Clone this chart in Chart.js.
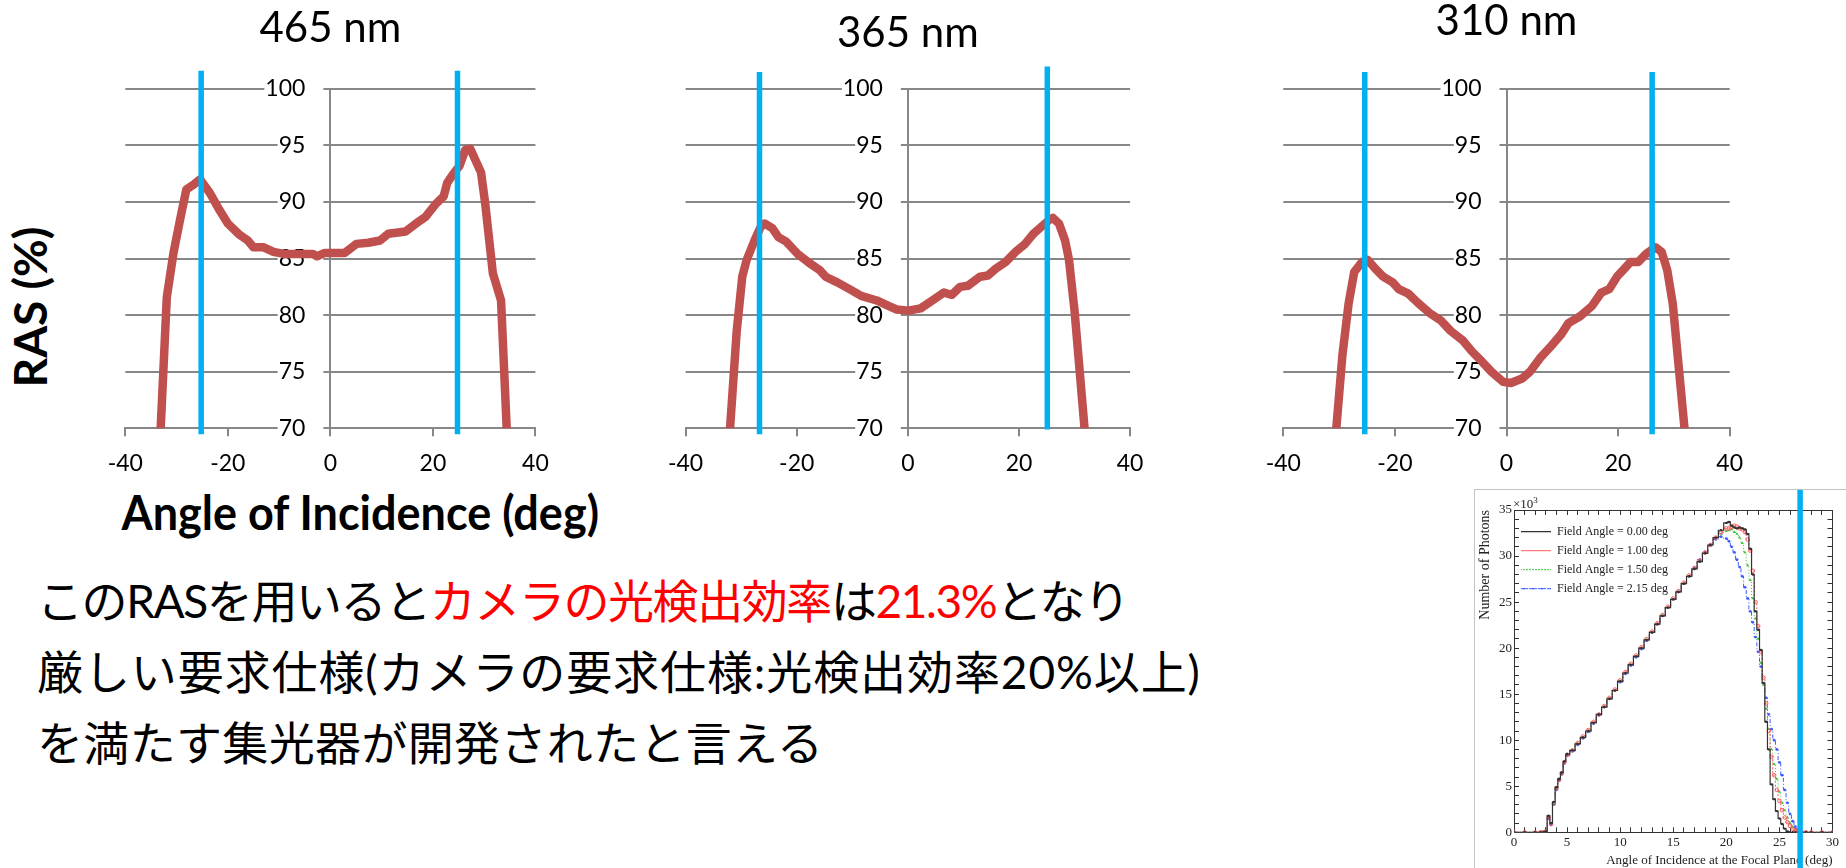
<!DOCTYPE html>
<html><head><meta charset="utf-8">
<script src="https://cdn.jsdelivr.net/npm/chart.js@4.4.1/dist/chart.umd.min.js"></script>
<style>
html,body{margin:0;padding:0;background:#fff;width:1846px;height:868px;overflow:hidden;position:relative;}
canvas{position:absolute;}
.abs{position:absolute;white-space:nowrap;color:#000;}
.red{color:#ff0000;}
.jp{position:absolute;left:37px;white-space:nowrap;font-family:Lato,'Noto Sans CJK JP',sans-serif;font-size:46px;line-height:71px;height:71px;color:#000;}
</style></head><body>
<canvas id="c1"></canvas>
<canvas id="c2"></canvas>
<canvas id="c3"></canvas>
<div class="abs" style="left:29.5px;top:307px;transform:translate(-50%,-50%) rotate(-90deg);font:bold 46px Lato;line-height:1;">RAS (%)</div>
<div class="abs" id="xtitle" style="left:121.5px;top:512px;transform:translateY(-50%) scaleY(1.08);font:bold 45px Lato;line-height:1;">Angle of Incidence (deg)</div>
<div class="jp" id="jp1" data-w="1093" style="top:564.5px;"><span>このRASを用いると<span class="red">カメラの光検出効率</span>は<span class="red">21.3%</span>となり</span></div>
<div class="jp" id="jp2" data-w="1163" style="top:635.5px;"><span>厳しい要求仕様(カメラの要求仕様:光検出効率20%以上)</span></div>
<div class="jp" id="jp3" data-w="786" style="top:706.5px;"><span>を満たす集光器が開発されたと言える</span></div>
<div style="position:absolute;left:1474px;top:489px;width:372px;height:379px;background:#fff;border-left:1px solid #c4c4c4;border-top:1px solid #c4c4c4;box-sizing:border-box;"></div>
<canvas id="c4" style="left:1475px;top:490px;"></canvas>
<div class="abs" style="left:1513px;top:497px;font-family:'Liberation Serif',serif;font-size:13px;line-height:13px;color:#222;">×10<sup style="font-size:9px;vertical-align:5px;line-height:0">3</sup></div>
<script>
// ---------- main RAS charts data ----------
const angle465 = [-34.1, -33.1, -31.9, -30.6, -29.2, -28.1, -26.5, -25.4, -23.5, -21.9, -20.0, -17.7, -16.1, -15.0, -13.0, -11.1, -8.8, -5.7, -3.4, -2.6, -1.1, 2.8, 5.1, 7.4, 9.7, 11.3, 14.7, 16.7, 18.6, 20.5, 22.1, 22.8, 24.0, 25.2, 26.3, 27.3, 28.2, 29.4, 30.2, 31.7, 33.3, 34.4, 35.4];
const ras465   = [60, 70, 81.6, 85.5, 88.7, 91.1, 91.6, 92.0, 90.8, 89.5, 88.1, 87.1, 86.6, 86.0, 86.0, 85.6, 85.4, 85.4, 85.4, 85.2, 85.5, 85.5, 86.3, 86.4, 86.6, 87.2, 87.4, 88.1, 88.7, 89.8, 90.5, 91.7, 92.5, 93.2, 94.6, 94.7, 93.8, 92.6, 89.9, 83.7, 81.3, 70, 60];

const angle365 = [-33.4, -32.0, -30.8, -29.8, -29.0, -27.6, -26.5, -25.8, -24.4, -23.3, -21.9, -19.8, -17.7, -15.9, -14.8, -12.7, -10.5, -8.4, -5.6, -3.4, -2.0, 0.1, 2.3, 4.4, 6.5, 7.9, 9.4, 10.8, 13.0, 14.4, 15.8, 17.6, 19.4, 21.1, 22.6, 24.0, 25.4, 26.1, 27.2, 28.3, 29.0, 30.0, 31.8, 33.5];
const ras365   = [60, 70, 78.6, 83.4, 84.9, 86.6, 87.8, 88.1, 87.7, 86.9, 86.5, 85.4, 84.6, 84.0, 83.4, 82.9, 82.3, 81.7, 81.3, 80.8, 80.5, 80.4, 80.6, 81.3, 82.0, 81.8, 82.5, 82.6, 83.4, 83.5, 84.1, 84.7, 85.6, 86.3, 87.2, 87.8, 88.4, 88.6, 88.1, 86.6, 84.9, 80.4, 70, 60];

const angle310 = [-32.2, -30.5, -29.4, -28.3, -27.3, -25.9, -24.9, -23.5, -22.1, -20.4, -19.3, -17.6, -15.9, -13.8, -11.7, -10.0, -7.9, -6.2, -4.4, -2.7, -0.6, 0.8, 2.8, 4.2, 6.0, 7.7, 9.8, 11.1, 13.2, 15.3, 17.0, 18.4, 19.8, 21.5, 22.2, 23.6, 25.0, 26.7, 27.8, 28.8, 29.8, 31.9, 33.8];
const ras310   = [60, 70, 76.5, 81.0, 83.8, 84.7, 84.9, 84.1, 83.4, 82.9, 82.3, 81.9, 81.1, 80.2, 79.5, 78.6, 77.8, 76.8, 75.9, 75.0, 74.1, 74.0, 74.4, 75.0, 76.2, 77.1, 78.3, 79.3, 79.9, 80.8, 82.0, 82.3, 83.4, 84.3, 84.7, 84.7, 85.4, 86.0, 85.6, 84.0, 81.0, 70, 60];

// blue marker lines (angle, top value, bottom value)
const blueX465 = [-25.2, 24.8];  const blueTop465 = [101.6, 101.6];  const blueBot465 = [69.47, 69.47];
const blueX365 = [-26.7, 25.1];  const blueTop365 = [101.5, 101.97]; const blueBot365 = [69.47, 69.9];
const blueX310 = [-25.4, 26.1];  const blueTop310 = [101.5, 101.5];  const blueBot310 = [69.47, 69.47];

const titles = ['465 nm', '365 nm', '310 nm'];

// ---------- inset histogram data (x10^3 photons) ----------
const incAngles = [0, 1, 2, 2.5, 2.75, 3.0, 3.25, 3.5, 3.75, 4.0, 4.25, 4.5, 4.75, 5.0, 5.5, 6.0, 6.5, 7.0, 7.5, 8.0, 8.5, 9.0, 9.5, 10.0, 10.5, 11.0, 11.5, 12.0, 12.5, 13.0, 13.5, 14.0, 14.5, 15.0, 15.5, 16.0, 16.5, 17.0, 17.5, 18.0, 18.5, 19.0, 19.5, 20.0, 20.25, 20.5, 20.75, 21.0, 21.25, 21.5, 21.75, 22.0, 22.25, 22.5, 22.75, 23.0, 23.25, 23.5, 23.75, 24.0, 24.25, 24.5, 24.75, 25.0, 25.25, 25.5, 25.75, 26.0, 26.25, 26.5, 26.75, 27.0, 27.5, 28, 29, 30];
const photons000 = [0,0,0,0,0, 0.1,1.8,1.0,3.3,4.9, 5.8,6.5,7.7,8.5,8.9, 9.6,10.3,11.0,11.9,12.8, 13.6,14.5,15.4,16.4,17.3, 18.2,19.1,20.0,20.9,21.7, 22.6,23.5,24.4,25.3,26.1, 27.0,27.8,28.6,29.4,30.3, 31.2,32.0,32.8,33.6,33.7, 33.3,33.1,33.0,33.1,33.0, 32.9,32.4,30.8,28.0,24.0, 22.0,19.8,16.2,12.0,9.0, 5.2,3.6,2.3,1.5,0.9, 0.4,0.1,0,0,0, 0,0,0,0,0, 0];
const photons100 = [0,0,0,0,0, 0.1,1.6,0.9,3.1,4.8, 5.7,6.4,7.6,8.4,8.9, 9.7,10.4,11.1,12.0,12.8, 13.7,14.6,15.5,16.5,17.4, 18.3,19.2,20.1,21.0,21.8, 22.7,23.6,24.5,25.4,26.2, 27.1,27.9,28.7,29.5,30.4, 31.2,32.0,32.6,33.0,33.0, 33.2,33.3,33.2,33.0,32.9, 32.6,31.8,30.6,28.4,25.0, 22.4,19.6,16.8,14.0,11.0, 8.2,6.2,4.6,3.4,2.4, 1.6,1.1,0.7,0.4,0.2, 0.1,0,0,0,0, 0];
const photons150 = [0,0,0,0,0, 0.1,1.7,1.0,3.2,4.8, 5.8,6.5,7.7,8.5,8.9, 9.6,10.3,11.0,11.9,12.8, 13.6,14.5,15.4,16.4,17.3, 18.2,19.1,20.0,20.9,21.7, 22.6,23.5,24.4,25.3,26.1, 27.0,27.8,28.6,29.4,30.3, 31.2,32.0,32.4,32.7,32.8, 32.9,32.6,32.4,32.0,31.4, 30.4,29.0,27.4,25.4,23.2, 21.0,18.4,16.0,13.4,11.2, 9.0,7.4,5.8,4.4,3.2, 2.4,1.6,1.0,0.6,0.3, 0.1,0,0,0,0, 0];
const photons215 = [0,0,0,0,0, 0.1,1.5,0.8,3.0,4.6, 5.6,6.3,7.5,8.3,8.8, 9.5,10.2,10.9,11.8,12.7, 13.6,14.5,15.4,16.3,17.2, 18.1,19.0,19.9,20.8,21.7, 22.6,23.5,24.4,25.3,26.1, 27.0,27.8,28.7,29.6,30.4, 31.2,31.8,32.1,31.9,31.6, 31.0,30.4,29.6,28.8,27.8, 26.6,25.4,24.0,22.8,21.2, 19.6,18.0,16.2,14.6,12.8, 11.2,10.0,9.0,7.6,6.2, 4.6,3.2,2.0,1.2,0.6, 0.3,0.1,0,0,0, 0];
const fieldLabels = ['Field Angle = 0.00 deg', 'Field Angle = 1.00 deg', 'Field Angle = 1.50 deg', 'Field Angle = 2.15 deg'];
const insetBlueX = 26.95; const insetBlueTop = 37.3; const insetBlueBot = -3.9;

// ---------- fit slide text widths ----------
document.querySelectorAll('.jp').forEach((d) => {
  const s = d.firstElementChild; const target = +d.dataset.w;
  const n = s.textContent.length;
  const w = s.getBoundingClientRect().width;
  d.style.letterSpacing = ((target - w) / (n - 1)).toFixed(2) + 'px';
});

// ---------- helpers ----------
function pts(xs, ys) { const n = Math.min(xs.length, ys.length); const o = []; for (let i = 0; i < n; i++) o.push({x: xs[i], y: ys[i]}); return o; }

const GRID = '#878787', BLUE = '#00B0F0', RED = '#C0504D';
const AREA_TOP = 88.9, AREA_BOTTOM = 428.3, CANVAS_H = 480, LABEL_GAP = 25;

function mainChart(id, L, R, title, padTop, xs, ys, bx, btop, bbot) {
  const cv = document.getElementById(id);
  const left = Math.floor(L - 50), right = Math.ceil(R + 50);
  cv.width = right - left; cv.height = CANVAS_H;
  cv.style.left = left + 'px'; cv.style.top = '0px';
  const labelAt = -LABEL_GAP / ((R - L) / 80);   // tick labels sit just left of the x = 0 axis line
  const datasets = [];
  bx.forEach((x, i) => datasets.push({data: [{x: x, y: btop[i]}, {x: x, y: bbot[i]}], borderColor: BLUE, borderWidth: 5.5, pointRadius: 0, clip: false, borderCapStyle: 'butt'}));
  datasets.push({data: pts(xs, ys), borderColor: RED, borderWidth: 8.5, pointRadius: 0, clip: 0, borderJoinStyle: 'round', borderCapStyle: 'round', tension: 0});
  return new Chart(cv, {
    type: 'line',
    data: {datasets},
    options: {
      responsive: false, animation: false, devicePixelRatio: 1,
      layout: {padding: {left: L - left, right: right - R, top: 0, bottom: 0}},
      plugins: {
        legend: {display: false}, tooltip: {enabled: false},
        title: {display: true, text: title, color: '#000', font: {family: 'Lato', size: 42, weight: 'normal', lineHeight: 1},
                padding: {top: padTop, bottom: AREA_TOP - padTop - 42}}
      },
      scales: {
        x: {type: 'linear', min: -40, max: 40,
            ticks: {stepSize: 20, color: '#000', font: {family: 'Lato', size: 23}, padding: 13, maxRotation: 0},
            grid: {drawOnChartArea: true, drawTicks: true, tickLength: 8, lineWidth: 2, tickColor: GRID,
                   color: (c) => (c.tick && c.tick.value === 0 ? GRID : 'rgba(0,0,0,0)')},
            border: {display: true, color: GRID, width: 2},
            afterFit: (s) => { s.height = CANVAS_H - AREA_BOTTOM; }},
        y: {type: 'linear', min: 70, max: 100, position: {x: labelAt},
            ticks: {stepSize: 5, color: '#000', font: {family: 'Lato', size: 23}, padding: 0,
                    showLabelBackdrop: true, backdropColor: '#fff', backdropPadding: {left: 1, right: 18, top: 1, bottom: 1}},
            grid: {color: GRID, lineWidth: 2, drawTicks: false},
            border: {display: false}}
      }
    }
  });
}

mainChart('c1', 125.3, 535.4, titles[0], 7.7, angle465, ras465, blueX465, blueTop465, blueBot465);
mainChart('c2', 685.6, 1130.1, titles[1], 12.8, angle365, ras365, blueX365, blueTop365, blueBot365);
mainChart('c3', 1283.3, 1729.7, titles[2], 0.5, angle310, ras310, blueX310, blueTop310, blueBot310);

// ---------- inset ----------
(function () {
  const cv = document.getElementById('c4');
  cv.width = 371; cv.height = 378;
  const serif = 'Liberation Serif';
  const axisCommon = {
    grid: {drawOnChartArea: false, drawTicks: true, tickLength: -5, color: '#333', lineWidth: 1},
    border: {display: true, color: '#333', width: 1}
  };
  new Chart(cv, {
    type: 'line',
    data: {datasets: [
      {label: 'marker', data: [{x: insetBlueX, y: insetBlueTop}, {x: insetBlueX, y: insetBlueBot}], borderColor: BLUE, borderWidth: 5.5, pointRadius: 0, clip: false},
      {label: fieldLabels[0], data: pts(incAngles, photons000), borderColor: '#333', backgroundColor: '#333', borderWidth: 1.2, stepped: 'middle', pointRadius: 1.2, pointBorderWidth: 0},
      {label: fieldLabels[1], data: pts(incAngles, photons100), borderColor: '#ff5a5a', backgroundColor: 'rgba(0,0,0,0)', borderWidth: 1, borderDash: [2, 2], stepped: 'middle', pointRadius: 1.8, pointBorderWidth: 1},
      {label: fieldLabels[2], data: pts(incAngles, photons150), borderColor: '#3cc03c', backgroundColor: '#3cc03c', borderWidth: 1, borderDash: [1, 2], stepped: 'middle', pointStyle: 'triangle', pointRadius: 1.8, pointBorderWidth: 0},
      {label: fieldLabels[3], data: pts(incAngles, photons215), borderColor: '#3c5aff', backgroundColor: '#3c5aff', borderWidth: 1, borderDash: [4, 2, 1, 2], stepped: 'middle', pointRadius: 1.4, pointBorderWidth: 0}
    ]},
    options: {
      responsive: false, animation: false, devicePixelRatio: 1,
      layout: {padding: {left: 0, right: 10, top: 20, bottom: 0}},
      plugins: {
        tooltip: {enabled: false},
        legend: {display: true, position: 'chartArea', align: 'start',
          title: {display: true, text: ' ', padding: 0, font: {size: 9, lineHeight: '28.7px'}},
          labels: {filter: (it) => it.datasetIndex > 0, boxWidth: 30, boxHeight: 0, padding: 7, color: '#222',
                   font: {family: serif, size: 12}}}
      },
      scales: {
        x: Object.assign({type: 'linear', position: 'bottom', min: 0, max: 30,
            ticks: {stepSize: 1, autoSkip: false, maxRotation: 0, color: '#222', font: {family: serif, size: 13}, padding: 7,
                    callback: (v) => (v % 5 === 0 ? String(v) : '')},
            title: {display: true, text: 'Angle of Incidence at the Focal Plane (deg)', align: 'end', color: '#222', font: {family: serif, size: 13}, padding: {top: 0, bottom: 0}},
            afterFit: (s) => { s.height = 35.7; }}, axisCommon),
        x2: Object.assign({type: 'linear', position: 'top', min: 0, max: 30, ticks: {stepSize: 1, display: false, autoSkip: false},
            afterFit: (s) => { s.height = 0; }}, axisCommon),
        y: Object.assign({type: 'linear', position: 'left', min: 0, max: 35,
            ticks: {stepSize: 1, autoSkip: false, color: '#222', font: {family: serif, size: 13}, padding: 7,
                    callback: (v) => (v % 5 === 0 ? String(v) : '')},
            title: {display: true, text: 'Number of Photons', align: 'end', color: '#222', font: {family: serif, size: 14}, padding: {top: 1.6, bottom: 0}},
            afterFit: (s) => { s.width = 39; }}, axisCommon),
        y2: Object.assign({type: 'linear', position: 'right', min: 0, max: 35, ticks: {stepSize: 1, display: false, autoSkip: false},
            afterFit: (s) => { s.width = 0; }}, axisCommon)
      }
    }
  });
})();
</script>
</body></html>
